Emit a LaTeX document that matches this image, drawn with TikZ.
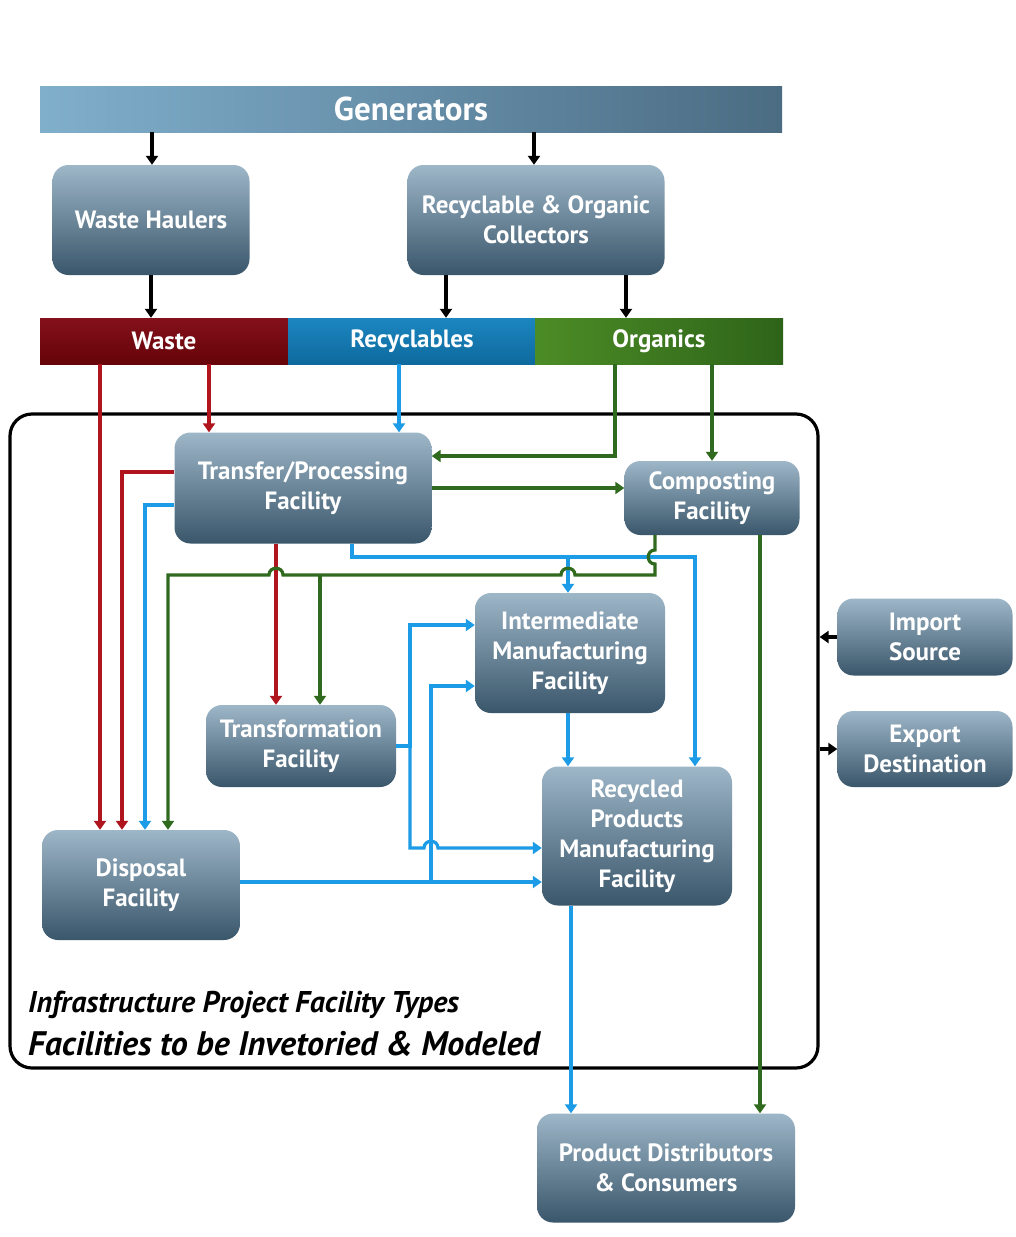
\documentclass[tikz,border=0pt]{standalone}
\usepackage{fontspec}
\setmainfont{PT Sans}
\usetikzlibrary{arrows.meta,positioning,calc}
\definecolor{boxtop}{HTML}{9DB6C8}
\definecolor{boxmid}{HTML}{5E7F96}
\definecolor{boxbot}{HTML}{3A566A}
\definecolor{genleft}{HTML}{80AFCC}
\definecolor{genright}{HTML}{4B6C83}
\definecolor{wastetop}{HTML}{84101A}
\definecolor{wastebot}{HTML}{650409}
\definecolor{recytop}{HTML}{1C86C0}
\definecolor{recybot}{HTML}{0E6A9E}
\definecolor{orgleft}{HTML}{4C8C26}
\definecolor{orgright}{HTML}{2E6419}
\definecolor{wasteline}{HTML}{B0141C}
\definecolor{recyline}{HTML}{1C9BE6}
\definecolor{orgline}{HTML}{2F6A1E}
\tikzset{
  fac/.style      = {rounded corners=16pt, top color=boxtop, middle color=boxmid,
                     bottom color=boxbot, draw=none, text=white, align=center,
                     font=\fontsize{25}{30}\selectfont\bfseries, inner sep=0pt},
  catbar/.style   = {minimum width=248pt, minimum height=46pt, inner sep=0pt,
                     text=white, font=\fontsize{25}{28}\selectfont\bfseries},
  flow/.style     = {line width=3.2pt, -{Triangle[length=9pt,width=12pt]}},
  wasteflow/.style= {flow, draw=wasteline},
  recyflow/.style = {flow, draw=recyline},
  orgflow/.style  = {flow, draw=orgline},
  frame/.style    = {draw=black, line width=3.2pt, rounded corners=22pt},
}

\begin{document}
\begin{tikzpicture}[x=1pt,y=-1pt]
  \useasboundingbox (0,0) rectangle (1016,1237);
  \fill[white] (0,0) rectangle (1016,1237);

  % top row
  \node[left color=genleft, right color=genright, minimum width=742pt,
        minimum height=46pt, inner sep=0pt, text=white,
        font=\fontsize{33}{34}\selectfont\bfseries] (gen) at (411,109) {Generators};
  \node[fac, minimum width=197pt, minimum height=110pt] (haul) at (151,220) {Waste Haulers};
  \node[fac, minimum width=257pt, minimum height=110pt] (coll) at (536,220)
       {Recyclable \& Organic\\Collectors};

  \node[catbar, top color=wastetop, bottom color=wastebot] (waste) at (164,341) {Waste};
  \node[catbar, top color=recytop, bottom color=recybot] (recy) at (412,341) {Recyclables};
  \node[catbar, left color=orgleft, right color=orgright] (org) at (659,341) {Organics};

  % facilities
  \node[frame, minimum width=808pt, minimum height=654pt] (proj) at (414,741) {};
  \node[fac, minimum width=257pt, minimum height=111pt] (tp) at (303,488) {Transfer/Processing\\Facility};
  \node[fac, minimum width=175pt, minimum height=74pt] (comp) at (712,498) {Composting\\Facility};
  \node[fac, minimum width=190pt, minimum height=120pt] (inter) at (570,653)
       {Intermediate\\Manufacturing\\Facility};
  \node[fac, minimum width=190pt, minimum height=82pt] (trans) at (301,746) {Transformation\\Facility};
  \node[fac, minimum width=190pt, minimum height=139pt] (recyc) at (637,836)
       {Recycled\\Products\\Manufacturing\\Facility};
  \node[fac, minimum width=198pt, minimum height=110pt] (disp) at (141,885) {Disposal\\Facility};
  \node[fac, minimum width=175pt, minimum height=77pt] (imp) at (925,637) {Import\\Source};
  \node[fac, minimum width=175pt, minimum height=76pt] (exp) at (925,749) {Export\\Destination};
  \node[fac, minimum width=258pt, minimum height=109pt] (dist) at (666,1168)
       {Product Distributors\\\& Consumers};

  \node[anchor=base west, inner sep=0pt, font=\fontsize{30}{32}\selectfont\bfseries\itshape]
       (sub) at (28,1012) {Infrastructure Project Facility Types};
  \node[anchor=base west, inner sep=0pt, font=\fontsize{34}{38}\selectfont\bfseries\itshape]
       (ttl) at (28,1055) {Facilities to be Invetoried \& Modeled};

  % collection
  \draw[flow] (152,0 |- gen.south) -- (152,0 |- haul.north);
  \draw[flow] (534,0 |- gen.south) -- (534,0 |- coll.north);
  \draw[flow] (haul.south) -- (haul.south |- waste.north);
  \draw[flow] (446,0 |- coll.south) -- (446,0 |- recy.north);
  \draw[flow] (626,0 |- coll.south) -- (626,0 |- org.north);

  % waste
  \draw[wasteflow] (100,0 |- waste.south) -- (100,0 |- disp.north);
  \draw[wasteflow] (209,0 |- waste.south) -- (209,0 |- tp.north);
  \draw[wasteflow] (tp.west |- 0,472) -| (122,0 |- disp.north);
  \draw[wasteflow] (276,0 |- tp.south) -- (276,0 |- trans.north);

  % recyclables
  \coordinate (rj) at (568,557);
  \coordinate (tj) at (410,746);
  \coordinate (dj) at (431,882);
  \draw[recyflow] (399,0 |- recy.south) -- (399,0 |- tp.north);
  \draw[recyflow] (tp.west |- 0,505) -| (145,0 |- disp.north);
  \draw[recyflow] (352,0 |- tp.south) |- (695,557) -- (695,0 |- recyc.north);
  \draw[recyflow] (rj) -- (rj |- inter.north);
  \draw[recyflow] (inter.south -| rj) -- (rj |- recyc.north);
  \draw[recyflow] (trans.east) -- (tj) |- (inter.west |- 0,625);
  \draw[recyflow] (tj) |- (424,848) .. controls +(0,-9) and +(0,-9) .. (438,848)
                  -- (recyc.west |- 0,848);
  \draw[recyflow] (disp.east |- dj) -- (recyc.west |- dj);
  \draw[recyflow] (dj) |- (inter.west |- 0,686);
  \draw[recyflow] (571,0 |- recyc.south) -- (571,0 |- dist.north);

  % organics
  \draw[orgflow] (615,0 |- org.south) |- (tp.east |- 0,456);
  \draw[orgflow] (comp.north |- org.south) -- (comp.north);
  \draw[orgflow] (tp.east |- 0,488) -- (comp.west |- 0,488);
  \draw[orgflow] (655,0 |- comp.south) -- (655,550) .. controls +(-9,0) and +(-9,0) .. (655,564)
                 -- (655,575) -- (575,575) .. controls +(0,-9) and +(0,-9) .. (561,575)
                 -- (283,575) .. controls +(0,-9) and +(0,-9) .. (269,575)
                 -| (168,0 |- disp.north);
  \draw[orgflow] (320,575) -- (320,0 |- trans.north);
  \draw[orgflow] (760,0 |- comp.south) -- (760,0 |- dist.north);

  % import / export
  \draw[flow] (imp.west) -- (imp.west -| proj.east);
  \draw[flow] (exp.west -| proj.east) -- (exp.west);
\end{tikzpicture}
\end{document}
